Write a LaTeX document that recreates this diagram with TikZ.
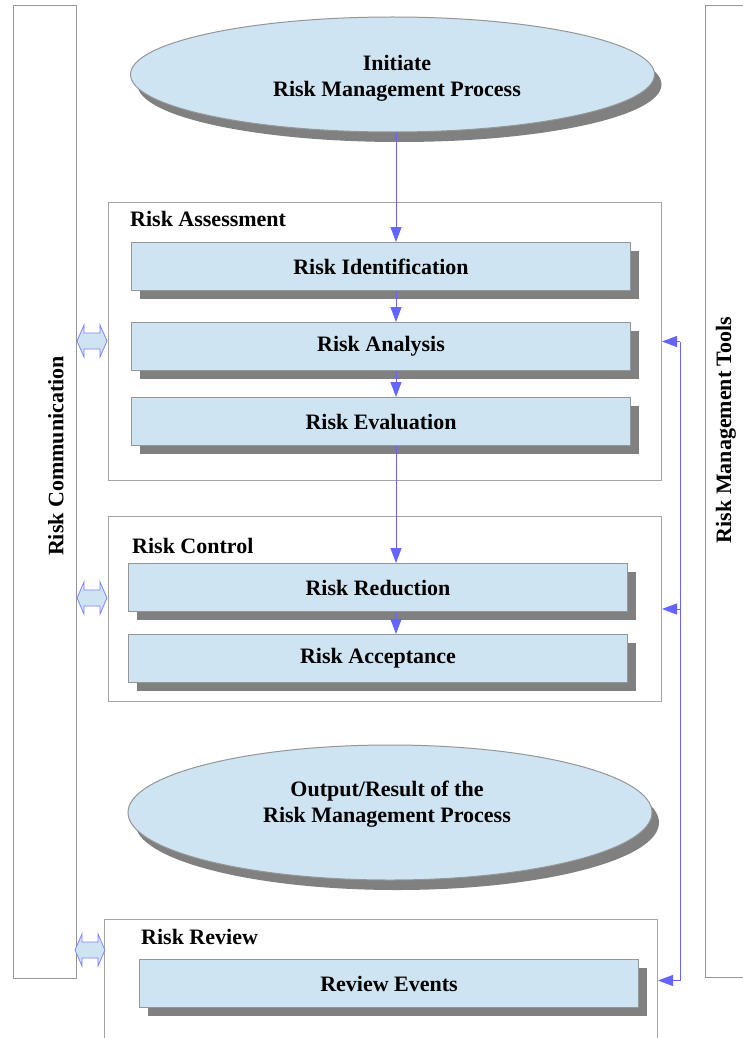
\documentclass[tikz,border=0pt]{standalone}
\usepackage{fontspec}
\setmainfont{Liberation Serif}
\usetikzlibrary{shapes.geometric,shadows,arrows.meta}
\definecolor{boxfill}{RGB}{207,228,242}
\definecolor{shade}{RGB}{128,128,128}
\definecolor{framec}{RGB}{165,165,165}
\definecolor{edgec}{RGB}{150,150,150}
\definecolor{flowc}{RGB}{100,100,255}
\definecolor{dblc}{RGB}{130,130,255}
\begin{document}
\begin{tikzpicture}[x=1pt,y=-1pt,
  txt/.style={font=\fontsize{22}{26}\selectfont\bfseries},
  stepbox/.style={txt, draw=edgec, line width=1pt, fill=boxfill,
    minimum width=499pt, minimum height=48pt, inner sep=0pt, anchor=north west,
    drop shadow={shadow xshift=8pt, shadow yshift=-8pt, fill=shade, opacity=1}},
  oval/.style={ellipse, draw=edgec, line width=1pt, fill=boxfill,
    inner sep=0pt, minimum width=524pt,
    drop shadow={shadow xshift=7pt, shadow yshift=-10pt, fill=shade, opacity=1}},
  ovaltext/.style={txt, align=center, inner sep=0pt},
  framebox/.style={draw=framec, line width=1pt, inner sep=0pt, anchor=north west},
  sidebox/.style={draw=edgec, line width=1pt, inner sep=0pt, anchor=north west},
  framelabel/.style={txt, anchor=west, inner sep=0pt},
  sidelabel/.style={txt, rotate=90, inner sep=0pt},
  flow/.style={draw=flowc, line width=1pt},
  conn/.style={flow, -{Triangle[length=15pt,width=11pt]}},
  dblarrow/.pic={\draw[draw=dblc, line width=0.8pt, fill=boxfill]
    (-15,0) -- (-8,-16) -- (-8,-8) -- (8,-8) -- (8,-16) -- (15,0) -- (8,16) -- (8,8)
    -- (-8,8) -- (-8,16) -- cycle;}
]
\useasboundingbox (0,0) rectangle (743,1038);
\clip (0,0) rectangle (743,1038);
\fill[white] (0,0) rectangle (743,1038);

% side boxes
\node[sidebox, minimum width=63pt, minimum height=973pt] (comm) at (13,5) {};
\node[sidelabel] (commlbl) at (56,456) {Risk Communication};
\node[sidebox, minimum width=70pt, minimum height=972pt] (tools) at (705,5) {};
\node[sidelabel] (toolslbl) at (726,430) {Risk Management Tools};

% top ellipse
\node[oval, minimum height=115pt] (top) at (392.5,74.5) {};
\node[ovaltext] (toptxt) at (397,78) {Initiate\\Risk Management Process};

% risk assessment
\node[framebox, minimum width=553pt, minimum height=278pt] (fa) at (108,202) {};
\node[framelabel] (fal) at (130,219) {Risk Assessment};
\node[stepbox] (ri) at (131,242) {Risk Identification};
\node[stepbox] (rn) at (131,322) {Risk Analysis};
\node[stepbox] (re) at (131,397) {Risk Evaluation};

% risk control
\node[framebox, minimum width=553pt, minimum height=185pt] (fc) at (108,516) {};
\node[framelabel] (fcl) at (132,546) {Risk Control};
\node[stepbox] (rr) at (128,563) {Risk Reduction};
\node[stepbox] (rac) at (128,634) {Risk Acceptance};

% output ellipse
\node[oval, minimum height=135pt] (out) at (390,812.5) {};
\node[ovaltext] (outtxt) at (387,804) {Output/Result of the\\Risk Management Process};

% risk review
\node[framebox, minimum width=553pt, minimum height=122pt] (fr) at (104,919) {};
\node[framelabel] (frl) at (141,937) {Risk Review};
\node[stepbox] (rev) at (139,959) {Review Events};

% vertical flow
\coordinate (col) at (396,0);
\draw[conn] (top.south -| col) -- (ri.north -| col);
\draw[conn] (ri.south -| col) -- (rn.north -| col);
\draw[conn] (rn.south -| col) -- (re.north -| col);
\draw[conn] (re.south -| col) -- (rr.north -| col);
\draw[conn] (rr.south -| col) -- (rac.north -| col);

% tools feedback
\coordinate (bus) at (680,0);
\draw[flow] (bus |- fa.east) -- (bus |- fr.east);
\draw[conn] (bus |- fa.east) -- (fa.east);
\draw[conn] (bus |- fc.east) -- (fc.east);
\draw[conn] (bus |- fr.east) -- (fr.east);

% communication double arrows
\pic at (92,341) {dblarrow};
\pic at (92,598) {dblarrow};
\pic at (90,950) {dblarrow};
\end{tikzpicture}
\end{document}
